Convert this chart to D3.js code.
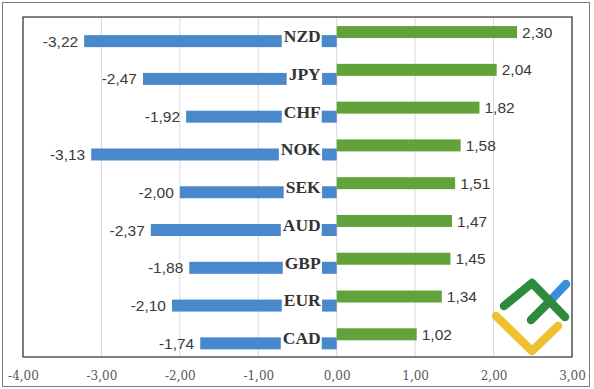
<!DOCTYPE html>
<html>
<head>
<meta charset="utf-8">
<script src="https://cdn.jsdelivr.net/npm/d3@7"></script>
<style>
  body { margin: 0; background: #fff; }
  svg { display: block; }
</style>
</head>
<body>
<div id="chart"></div>
<script>
// currency strength, top to bottom
const categories = ["NZD", "JPY", "CHF", "NOK", "SEK", "AUD", "GBP", "EUR", "CAD"];
const positive = [2.30, 2.04, 1.82, 1.58, 1.51, 1.47, 1.45, 1.34, 1.02];
const negative = [-3.22, -2.47, -1.92, -3.13, -2.00, -2.37, -1.88, -2.10, -1.74];
const ticks = [-4, -3, -2, -1, 0, 1, 2, 3];

const width = 594, height = 389;
const fmt = v => d3.format(".2f")(v).replace(".", ",").replace("−", "-");

const svg = d3.select("#chart").append("svg")
    .attr("width", width)
    .attr("height", height);

// outer frame
svg.append("rect")
    .attr("x", 2.5).attr("y", 2.5)
    .attr("width", 587).attr("height", 384)
    .attr("fill", "#fff")
    .attr("stroke", "#7a7a7a");

const x = d3.scaleLinear().domain([-4, 3]).range([23, 572]);
const y = d3.scaleBand().domain(categories).range([17, 357]);
const bw = y.bandwidth();
const bh = 12;
const greenY = c => y(c) + bw * 0.24;
const blueY = c => y(c) + bw * 0.48;

// grid
svg.append("g")
  .selectAll("line")
  .data(ticks)
  .join("line")
    .attr("x1", d => x(d)).attr("x2", d => x(d))
    .attr("y1", 17).attr("y2", 357)
    .attr("stroke", "#d9d9d9");

// bars
svg.append("g")
  .selectAll("rect")
  .data(categories)
  .join("rect")
    .attr("x", (c, i) => x(negative[i]))
    .attr("y", c => blueY(c))
    .attr("width", (c, i) => x(0) - x(negative[i]))
    .attr("height", bh)
    .attr("fill", "#4a88cc");

svg.append("g")
  .selectAll("rect")
  .data(categories)
  .join("rect")
    .attr("x", x(0))
    .attr("y", c => greenY(c))
    .attr("width", (c, i) => x(positive[i]) - x(0))
    .attr("height", bh)
    .attr("fill", "#62a23a");

// value labels
svg.append("g")
    .attr("font-family", "'Liberation Sans', Arial, sans-serif")
    .attr("font-size", 15.5)
    .attr("fill", "#3a3a3a")
  .selectAll("text")
  .data(categories)
  .join("text")
    .attr("x", (c, i) => x(negative[i]) - 6)
    .attr("y", c => blueY(c) + bh / 2)
    .attr("dy", "0.36em")
    .attr("text-anchor", "end")
    .text((c, i) => fmt(negative[i]));

svg.append("g")
    .attr("font-family", "'Liberation Sans', Arial, sans-serif")
    .attr("font-size", 15.5)
    .attr("fill", "#3a3a3a")
  .selectAll("text")
  .data(categories)
  .join("text")
    .attr("x", (c, i) => x(positive[i]) + 5)
    .attr("y", c => greenY(c) + bh / 2)
    .attr("dy", "0.36em")
    .text((c, i) => fmt(positive[i]));

// category labels with white boxes
const lab = svg.append("g")
  .selectAll("g")
  .data(categories)
  .join("g");

lab.append("rect").attr("fill", "#fff");
lab.append("text")
    .attr("x", x(0) - 16)
    .attr("y", c => y(c) + bw / 2)
    .attr("dy", "0.35em")
    .attr("text-anchor", "end")
    .attr("font-family", "'Liberation Serif', 'Times New Roman', serif")
    .attr("font-weight", "bold")
    .attr("font-size", 17.5)
    .attr("fill", "#333")
    .text(c => c);

lab.each(function(c) {
  const g = d3.select(this);
  const b = g.select("text").node().getBBox();
  g.select("rect")
      .attr("x", b.x - 2)
      .attr("width", b.width + 3)
      .attr("y", y(c) + 11.5)
      .attr("height", 19.5);
});

// plot frame
svg.append("rect")
    .attr("x", 23).attr("y", 17)
    .attr("width", 549).attr("height", 340)
    .attr("fill", "none")
    .attr("stroke", "#404040")
    .attr("stroke-width", 1.3);

// x axis
const axis = svg.append("g")
    .attr("transform", "translate(0,357)")
    .call(d3.axisBottom(x).tickValues(ticks).tickSize(0).tickPadding(14).tickFormat(fmt));
axis.select(".domain").remove();
axis.selectAll("text")
    .attr("font-family", "'DejaVu Serif', serif")
    .attr("font-size", 12)
    .attr("fill", "#595959");

// logo
const logo = svg.append("g")
    .attr("fill", "none")
    .attr("stroke-width", 8.5)
    .attr("stroke-linecap", "round")
    .attr("stroke-linejoin", "round");
logo.append("path").attr("d", "M496,316 L532,351 L558,326").attr("stroke", "#f0c12e");
logo.append("path").attr("d", "M548,303 L566,284").attr("stroke", "#3b8fd9");
logo.append("path").attr("d", "M504,306 L532,283 L565,317").attr("stroke", "#2e8b3c");
logo.append("path").attr("d", "M531,320 L549,302").attr("stroke", "#2e8b3c");
</script>
</body>
</html>
